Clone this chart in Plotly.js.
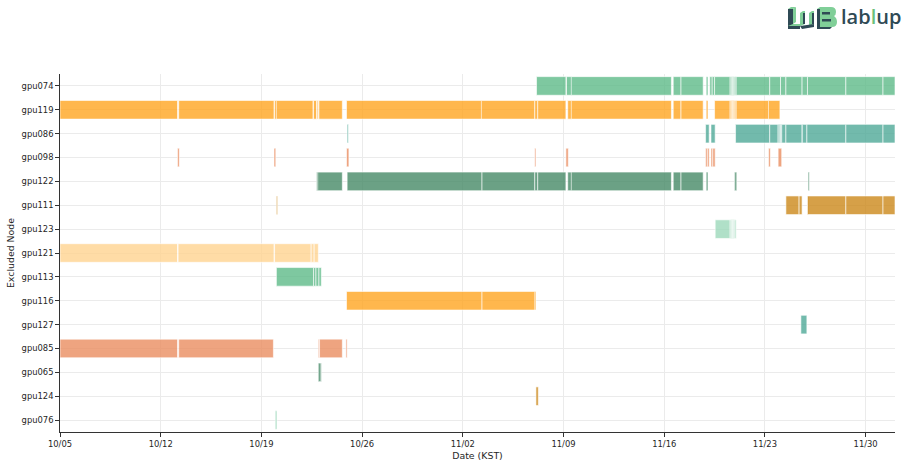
<!DOCTYPE html>
<html>
<head>
<meta charset="utf-8">
<script src="https://cdn.plot.ly/plotly-3.0.1.min.js"></script>
<style>
  html, body { margin: 0; padding: 0; background: #fff; }
  #chart { width: 908px; height: 466px; }
</style>
</head>
<body>
<div id="chart"></div>
<script>
// Excluded-node timeline: one row per GPU node, one bar per exclusion period.
// Periods are "MM-DD HH" (KST) start/end pairs.
const YEAR = 2023;

const nodes = ['gpu074', 'gpu119', 'gpu086', 'gpu098', 'gpu122', 'gpu111', 'gpu123',
               'gpu121', 'gpu113', 'gpu116', 'gpu127', 'gpu085', 'gpu065', 'gpu124', 'gpu076'];

const gpu074 = [
  ['11-07 03', '11-09 04'], ['11-09 05', '11-09 14'], ['11-09 13', '11-16 12'],
  ['11-16 15', '11-17 04'], ['11-17 04', '11-18 17'], ['11-18 22', '11-19 01'],
  ['11-19 04', '11-19 08'], ['11-19 08', '11-19 12'], ['11-19 12', '11-20 14'],
  ['11-20 14', '11-20 16'], ['11-20 16', '11-20 18'], ['11-20 18', '11-20 20'],
  ['11-20 20', '11-20 22'], ['11-20 22', '11-21 00'], ['11-21 00', '11-23 08'],
  ['11-23 08', '11-24 02'], ['11-24 02', '11-24 11'], ['11-24 11', '11-25 14'],
  ['11-25 14', '11-25 23'], ['11-25 23', '11-28 15'], ['11-28 15', '12-01 05'],
  ['12-01 05', '12-02 01']
];
const gpu119 = [
  ['10-05 00', '10-13 04'], ['10-13 06', '10-19 21'], ['10-19 22', '10-20 02'],
  ['10-20 01', '10-22 14'], ['10-22 15', '10-22 20'], ['10-22 21', '10-22 23'],
  ['10-23 00', '10-24 15'], ['10-24 22', '11-03 08'], ['11-03 07', '11-07 00'],
  ['11-07 00', '11-07 05'], ['11-07 05', '11-09 04'], ['11-09 07', '11-09 14'],
  ['11-09 13', '11-16 12'], ['11-16 15', '11-17 04'], ['11-17 04', '11-18 17'],
  ['11-18 22', '11-19 01'], ['11-19 12', '11-20 14'], ['11-20 14', '11-20 16'],
  ['11-20 16', '11-20 18'], ['11-20 18', '11-20 20'], ['11-20 20', '11-20 22'],
  ['11-20 22', '11-21 00'], ['11-21 00', '11-23 07'], ['11-23 06', '11-24 01']
];
const gpu086 = [
  ['10-24 23', '10-25 01'], ['11-18 21', '11-19 03'], ['11-19 06', '11-19 13'],
  ['11-20 23', '11-23 08'], ['11-23 08', '11-23 22'], ['11-23 22', '11-24 00'],
  ['11-24 00', '11-24 02'], ['11-24 02', '11-24 04'], ['11-24 04', '11-24 11'],
  ['11-24 11', '11-25 14'], ['11-25 14', '11-25 17'], ['11-25 15', '11-25 22'],
  ['11-25 22', '11-28 15'], ['11-28 15', '12-01 05'], ['12-01 05', '12-02 01']
];
const gpu098 = [
  ['10-13 04', '10-13 07'], ['10-19 21', '10-20 00'], ['10-24 22', '10-25 02'],
  ['11-07 00', '11-07 02'], ['11-09 04', '11-09 08'], ['11-18 21', '11-19 00'],
  ['11-19 00', '11-19 03'], ['11-19 06', '11-19 09'], ['11-19 09', '11-19 13'],
  ['11-23 06', '11-23 09'], ['11-23 22', '11-24 04']
];
const gpu122 = [
  ['10-22 20', '10-22 23'], ['10-22 22', '10-24 15'], ['10-24 23', '11-03 08'],
  ['11-03 08', '11-07 00'], ['11-07 00', '11-07 05'], ['11-07 05', '11-09 04'],
  ['11-09 07', '11-09 14'], ['11-09 13', '11-16 12'], ['11-16 15', '11-17 04'],
  ['11-17 04', '11-18 17'], ['11-18 22', '11-19 01'], ['11-20 21', '11-21 00'],
  ['11-20 22', '11-21 01'], ['11-26 00', '11-26 02']
];
const gpu111 = [
  ['10-20 01', '10-20 03'], ['11-24 11', '11-25 09'], ['11-25 09', '11-25 14'],
  ['11-25 23', '11-26 01'], ['11-25 23', '11-28 15'], ['11-28 15', '12-01 05'],
  ['12-01 05', '12-02 01']
];
const gpu123 = [
  ['11-19 13', '11-20 14'], ['11-20 14', '11-20 16'], ['11-20 16', '11-20 18'],
  ['11-20 18', '11-20 20'], ['11-20 20', '11-20 22'], ['11-20 22', '11-21 00']
];
const gpu121 = [
  ['10-05 00', '10-13 04'], ['10-13 05', '10-19 21'], ['10-19 22', '10-22 11'],
  ['10-22 11', '10-22 16'], ['10-22 16', '10-22 23']
];
const gpu113 = [
  ['10-20 01', '10-22 15'], ['10-22 15', '10-22 19'], ['10-22 19', '10-23 00'],
  ['10-23 00', '10-23 04']
];
const gpu116 = [
  ['10-24 22', '11-03 08'], ['11-03 08', '11-07 01'], ['11-07 00', '11-07 02']
];
const gpu127 = [['11-25 12', '11-25 22']];
const gpu085 = [
  ['10-05 00', '10-13 04'], ['10-13 06', '10-19 20'], ['10-22 23', '10-23 01'],
  ['10-23 01', '10-24 15'], ['10-24 21', '10-24 23']
];
const gpu065 = [['10-22 23', '10-23 04'], ['10-22 23', '10-23 02']];
const gpu124 = [['11-07 02', '11-07 06']];
const gpu076 = [['10-19 23', '10-20 02']];

const periods = [gpu074, gpu119, gpu086, gpu098, gpu122, gpu111, gpu123,
                 gpu121, gpu113, gpu116, gpu127, gpu085, gpu065, gpu124, gpu076];

// colour cycle, applied row by row
const palette = ['rgba(94,186,136,0.8)', 'rgba(255,165,33,0.8)', 'rgba(79,169,151,0.8)',
                 'rgba(234,141,96,0.8)', 'rgba(70,138,103,0.8)', 'rgba(204,136,26,0.8)',
                 'rgba(156,216,186,0.8)', 'rgba(255,211,144,0.8)'];

function toDate(s) {
  const [md, h] = s.split(' ');
  return `${YEAR}-${md} ${h}:00`;
}
function toMs(s) {
  const [md, h] = s.split(' ');
  const [m, d] = md.split('-').map(Number);
  return Date.UTC(YEAR, m - 1, d, Number(h));
}

const traces = nodes.map((node, i) => ({
  type: 'bar',
  orientation: 'h',
  name: node,
  y: periods[i].map(() => node),
  base: periods[i].map(p => toDate(p[0])),
  x: periods[i].map(p => toMs(p[1]) - toMs(p[0])),
  width: 0.78,
  marker: { color: palette[i % palette.length], line: { color: '#ffffff', width: 0.6 } },
  hoverinfo: 'skip',
  showlegend: false
}));

const tickFont = { family: 'DejaVu Sans, sans-serif', size: 8.4, color: '#262626' };
const titleFont = { family: 'DejaVu Sans, sans-serif', size: 9.4, color: '#262626' };

// small isometric block mark next to the wordmark
const G = '#80cf98', D = '#2f4a55';
const markSvg =
  '<svg xmlns="http://www.w3.org/2000/svg" viewBox="0 0 52 26" width="52" height="26">' +
  // L
  `<path d="M2 5 L5 3 L10 3 L7 5 Z" fill="${G}"/>` +
  `<rect x="2" y="5" width="5" height="17" fill="${D}"/>` +
  `<path d="M7 5 L10 3 L10 18 L7 20 Z" fill="${G}"/>` +
  `<path d="M2 22 L7 20 L18 20 L14 22 Z" fill="${G}"/>` +
  `<rect x="2" y="22" width="12" height="3" fill="${D}"/>` +
  // U
  `<path d="M14 9 L17 7 L19 7 L19 20 L14 22 Z" fill="${G}"/>` +
  `<path d="M23 9 L26 7 L28 7 L28 20 L23 22 Z" fill="${G}"/>` +
  `<path d="M14 22 L28 20 L28 23 L16 25 Z" fill="${D}"/>` +
  `<rect x="17" y="9" width="2" height="11" fill="${D}"/>` +
  `<rect x="26" y="9" width="2" height="11" fill="${D}"/>` +
  // B
  `<path d="M31 5 L34 3 L45 3 Q50 3 50 8 Q50 11 48 12 Q51 14 51 18 Q51 23 46 23 L31 23 Z" fill="${G}"/>` +
  `<rect x="31" y="5" width="3" height="18" fill="${D}"/>` +
  `<rect x="36" y="8" width="8" height="2.5" fill="${D}"/>` +
  `<rect x="36" y="15" width="9" height="2.5" fill="${D}"/>` +
  `<path d="M31 23 L46 23 L44 25 L31 25 Z" fill="${D}"/>` +
  '</svg>';

const layout = {
  width: 908,
  height: 466,
  margin: { l: 60, r: 13, t: 74, b: 34 },
  paper_bgcolor: '#ffffff',
  plot_bgcolor: '#ffffff',
  barmode: 'overlay',
  xaxis: {
    type: 'date',
    range: [`${YEAR}-10-05 00:00`, `${YEAR}-12-02 01:00`],
    tick0: `${YEAR}-10-05`,
    dtick: 7 * 86400000,
    tickformat: '%m/%d',
    tickfont: tickFont,
    ticks: 'outside', ticklen: 3.5, tickwidth: 1, tickcolor: '#333',
    showline: true, linecolor: '#333', linewidth: 1.3,
    showgrid: true, gridcolor: '#ebebeb', gridwidth: 1,
    zeroline: false,
    title: { text: 'Date (KST)', font: titleFont, standoff: 4 }
  },
  yaxis: {
    type: 'category',
    categoryorder: 'array',
    categoryarray: nodes,
    range: [nodes.length - 0.5, -0.5],
    tickfont: tickFont,
    ticks: 'outside', ticklen: 3.5, tickwidth: 1, tickcolor: '#333',
    showline: true, linecolor: '#333', linewidth: 1.3,
    showgrid: true, gridcolor: '#ebebeb', gridwidth: 1,
    zeroline: false,
    title: { text: 'Excluded Node', font: titleFont, standoff: 5 }
  },
  annotations: [{
    xref: 'paper', yref: 'paper',
    x: (839 - 60) / 835, y: (432 - 17) / 358,
    xanchor: 'left', yanchor: 'middle',
    showarrow: false,
    text: 'lab<span style="color:#6cc07a">l</span>up',
    font: { family: 'Open Sans, sans-serif', size: 20, color: '#2f4a55', weight: 600 }
  }],
  images: [{
    source: 'data:image/svg+xml;utf8,' + encodeURIComponent(markSvg),
    xref: 'paper', yref: 'paper',
    x: (786 - 60) / 835, y: (432 - 4) / 358,
    sizex: 52 / 835, sizey: 26 / 358,
    xanchor: 'left', yanchor: 'top',
    sizing: 'stretch', layer: 'above'
  }]
};

Plotly.newPlot('chart', traces, layout, { staticPlot: true, displayModeBar: false });
</script>
</body>
</html>
